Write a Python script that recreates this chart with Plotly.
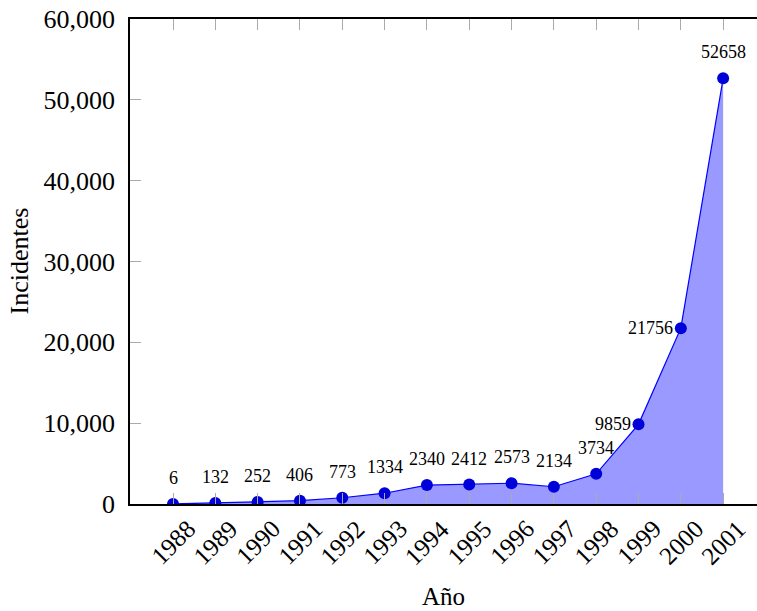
import plotly.graph_objects as go

years = [1988, 1989, 1990, 1991, 1992, 1993, 1994, 1995, 1996, 1997, 1998, 1999, 2000, 2001]
incidentes = [6, 132, 252, 406, 773, 1334, 2340, 2412, 2573, 2134, 3734, 9859, 21756, 52658]
label_side = ["top"] * 11 + ["left", "left", "top"]
y_ticks = [0, 10000, 20000, 30000, 40000, 50000, 60000]

FONT = "Liberation Serif"

fig = go.Figure()
fig.add_trace(go.Scatter(
    x=years, y=incidentes,
    mode="lines+markers",
    fill="tozeroy",
    fillcolor="#9999ff",
    line=dict(color="#0000ff", width=1.2),
    marker=dict(color="#0000d8", size=12),
    hoverinfo="skip",
))

annotations = []
for yr, v, side in zip(years, incidentes, label_side):
    if side == "top":
        annotations.append(dict(x=yr, y=v, xref="x", yref="y", text=str(v),
                                showarrow=False, xanchor="center", yanchor="middle",
                                yshift=26, font=dict(family=FONT, size=18, color="black")))
    else:
        annotations.append(dict(x=yr, y=v, xref="x", yref="y", text=str(v),
                                showarrow=False, xanchor="right", yanchor="middle",
                                xshift=-6, font=dict(family=FONT, size=18, color="black")))

for yr in years:
    annotations.append(dict(x=yr, y=-0.0784, xref="x", yref="paper", text=str(yr),
                            showarrow=False, xanchor="center", yanchor="middle",
                            textangle=-45, font=dict(family=FONT, size=25, color="black")))

annotations.append(dict(x=0.5, y=-0.19, xref="paper", yref="paper", text="Año",
                        showarrow=False, xanchor="center", yanchor="middle",
                        font=dict(family=FONT, size=25, color="black")))
annotations.append(dict(x=-0.177, y=0.5, xref="paper", yref="paper", text="Incidentes",
                        showarrow=False, xanchor="center", yanchor="middle", textangle=-90,
                        font=dict(family=FONT, size=26, color="black")))

fig.update_layout(
    width=757, height=611,
    margin=dict(l=130, r=0, t=19, b=107),
    paper_bgcolor="white", plot_bgcolor="white",
    showlegend=False,
    font=dict(family=FONT, color="black"),
    annotations=annotations,
    xaxis=dict(
        range=[1986.984, 2001.8],
        tickmode="array", tickvals=years, showticklabels=False,
        ticks="inside", ticklen=11, tickwidth=1, tickcolor="#aaaaaa",
        showline=True, linecolor="black", linewidth=1.5, mirror="ticks",
        showgrid=False, zeroline=False,
    ),
    yaxis=dict(
        range=[0, 60000],
        tickmode="array", tickvals=y_ticks, tickformat=",d",
        ticks="inside", ticklen=11, tickwidth=1, tickcolor="#aaaaaa",
        tickfont=dict(family=FONT, size=26, color="black"),
        ticklabelstandoff=8,
        showline=True, linecolor="black", linewidth=1.5,
        showgrid=False, zeroline=False,
    ),
)

# remove the browser's default 8px body margin so the figure fills the window exactly
fig.write_html("out.html", config={"displayModeBar": False},
               post_script="document.body.style.margin='0';")
